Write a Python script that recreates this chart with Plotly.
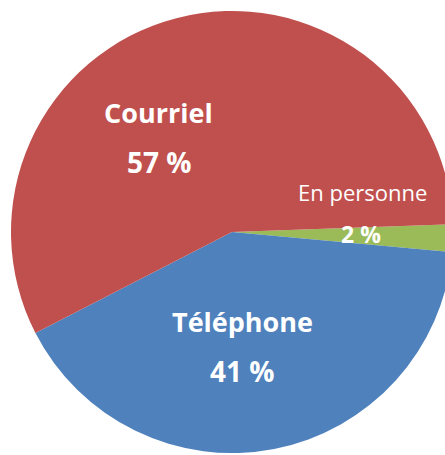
import plotly.graph_objects as go

labels = ["En personne", "Téléphone", "Courriel"]
values = [2, 41, 57]
colors = ["#9BBB59", "#4F81BD", "#C0504D"]

W = H = 464
fig = go.Figure(go.Pie(
    labels=labels, values=values, sort=False, direction="clockwise",
    rotation=88, marker=dict(colors=colors, line=dict(width=0)),
    textinfo="none", hoverinfo="label+percent",
    domain=dict(x=[0.0237, 0.9763], y=[0.0237, 0.9763]),
))

# label layout (pixel centers of name and value lines)
name_pos = {"En personne": (362, 192), "Téléphone": (243, 321), "Courriel": (158, 112)}
val_pos = {"En personne": (361, 234), "Téléphone": (243, 371), "Courriel": (159, 162)}
name_style = {"En personne": dict(size=22, weight=400), "Téléphone": dict(size=27, weight=700),
              "Courriel": dict(size=27, weight=700)}
val_style = {"En personne": dict(size=23, weight=700), "Téléphone": dict(size=28, weight=700),
             "Courriel": dict(size=28, weight=700)}

total = sum(values)
for lab, v in zip(labels, values):
    for text, pos, st in ((lab, name_pos[lab], name_style[lab]),
                          (f"{round(100 * v / total)} %", val_pos[lab], val_style[lab])):
        fig.add_annotation(
            x=pos[0] / W, y=1 - pos[1] / H, xref="paper", yref="paper",
            text=text, showarrow=False, xanchor="center", yanchor="middle",
            font=dict(family="Open Sans", color="white", size=st["size"], weight=st["weight"]),
        )

fig.update_layout(width=W, height=H, margin=dict(l=0, r=0, t=0, b=0),
                  showlegend=False, paper_bgcolor="white", plot_bgcolor="white")
fig.write_html("out.html", config={"displayModeBar": False},
               post_script="document.body.style.margin='0';document.body.style.overflow='hidden';")
